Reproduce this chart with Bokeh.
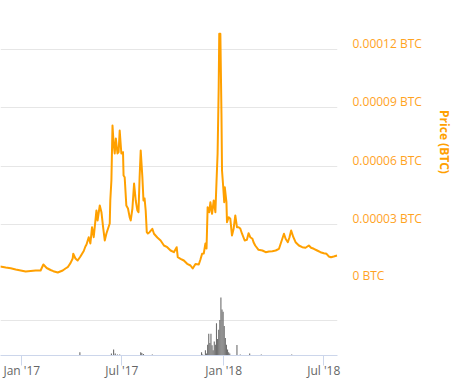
import pandas as pd
from bokeh.plotting import figure
from bokeh.layouts import column
from bokeh.models import Range1d, FixedTicker, CustomJSTickFormatter
from bokeh.embed import file_html
from bokeh.resources import INLINE

# ---- data ----
price_dates = [
    "2016-11-23", "2016-12-03", "2016-12-12", "2016-12-21", "2016-12-30",
    "2017-01-08", "2017-01-17", "2017-01-26", "2017-02-04", "2017-02-09",
    "2017-02-15", "2017-02-22", "2017-02-27", "2017-03-07", "2017-03-16",
    "2017-03-21", "2017-03-25", "2017-03-30", "2017-04-03", "2017-04-04",
    "2017-04-08", "2017-04-12", "2017-04-17", "2017-04-23", "2017-04-26",
    "2017-04-28", "2017-05-02", "2017-05-05", "2017-05-08", "2017-05-11",
    "2017-05-16", "2017-05-18", "2017-05-22", "2017-05-25", "2017-05-28",
    "2017-05-31", "2017-06-03", "2017-06-06", "2017-06-09", "2017-06-10",
    "2017-06-12", "2017-06-14", "2017-06-16", "2017-06-18", "2017-06-20",
    "2017-06-23", "2017-06-25", "2017-06-27", "2017-06-30", "2017-07-03",
    "2017-07-04", "2017-07-06", "2017-07-09", "2017-07-12", "2017-07-15",
    "2017-07-17", "2017-07-20", "2017-07-23", "2017-07-26", "2017-07-29",
    "2017-07-31", "2017-08-02", "2017-08-04", "2017-08-07", "2017-08-09",
    "2017-08-11", "2017-08-13", "2017-08-15", "2017-08-17", "2017-08-20",
    "2017-08-25", "2017-08-28", "2017-09-03", "2017-09-09", "2017-09-15",
    "2017-09-21", "2017-09-27", "2017-10-03", "2017-10-08", "2017-10-10",
    "2017-10-15", "2017-10-21", "2017-10-27", "2017-11-02", "2017-11-06",
    "2017-11-11", "2017-11-17", "2017-11-20", "2017-11-23", "2017-11-26",
    "2017-11-29", "2017-12-01", "2017-12-03", "2017-12-06", "2017-12-08",
    "2017-12-11", "2017-12-14", "2017-12-17", "2017-12-19", "2017-12-21",
    "2017-12-23", "2017-12-24", "2017-12-26", "2017-12-28", "2017-12-29",
    "2017-12-31", "2018-01-02", "2018-01-03", "2018-01-06", "2018-01-07",
    "2018-01-10", "2018-01-13", "2018-01-16", "2018-01-19", "2018-01-22",
    "2018-01-25", "2018-01-28", "2018-01-31", "2018-02-03", "2018-02-08",
    "2018-02-12", "2018-02-15", "2018-02-18", "2018-02-22", "2018-02-24",
    "2018-02-27", "2018-03-05", "2018-03-12", "2018-03-18", "2018-03-24",
    "2018-03-30", "2018-04-05", "2018-04-11", "2018-04-14", "2018-04-17",
    "2018-04-20", "2018-04-23", "2018-04-27", "2018-04-30", "2018-05-03",
    "2018-05-07", "2018-05-11", "2018-05-17", "2018-05-23", "2018-05-29",
    "2018-06-04", "2018-06-08", "2018-06-13", "2018-06-19", "2018-06-25",
    "2018-07-01", "2018-07-06", "2018-07-10", "2018-07-14", "2018-07-19",
    "2018-07-25",
]
# price in units of 0.00001 BTC
price_e5 = [
    0.872, 0.821, 0.785, 0.718, 0.667,
    0.615, 0.641, 0.667, 0.667, 0.974,
    0.795, 0.692, 0.631, 0.564, 0.667,
    0.769, 0.836, 1.046, 1.282, 1.523,
    1.282, 1.179, 1.385, 1.667, 1.897,
    2.000, 2.374, 2.051, 2.887, 2.374,
    3.744, 3.231, 4.000, 3.656, 2.887,
    2.205, 2.564, 2.821, 3.077, 4.256,
    5.282, 8.103, 7.179, 6.667, 7.436,
    6.667, 6.733, 7.846, 6.667, 6.733,
    5.538, 5.451, 4.000, 3.846, 3.400,
    3.231, 3.846, 5.128, 4.256, 3.744,
    3.656, 5.451, 6.821, 5.451, 4.256,
    4.359, 3.744, 2.631, 2.564, 2.631,
    2.805, 2.549, 2.359, 2.205, 1.949,
    1.862, 1.692, 1.605, 1.862, 1.349,
    1.267, 1.179, 1.010, 0.923, 0.769,
    1.000, 0.974, 1.231, 1.523, 1.538,
    2.051, 1.795, 3.913, 3.656, 4.169,
    3.574, 4.256, 3.656, 5.195, 6.651,
    10.067, 12.805, 12.805, 8.703, 5.795,
    5.026, 4.169, 4.938, 4.169, 3.144,
    3.400, 3.318, 2.462, 2.805, 3.487,
    2.887, 2.887, 2.821, 2.564, 2.205,
    2.241, 2.579, 2.374, 2.292, 2.118,
    1.949, 1.728, 1.692, 1.605, 1.641,
    1.656, 1.692, 1.779, 2.036, 2.292,
    2.549, 2.292, 2.118, 2.374, 2.718,
    2.374, 2.118, 1.949, 1.862, 1.831,
    1.949, 1.831, 1.779, 1.692, 1.605,
    1.554, 1.523, 1.385, 1.349, 1.385,
    1.436,
]

vol_dates = [
    "2017-04-16", "2017-06-12", "2017-06-16", "2017-06-19", "2017-06-23",
    "2017-06-27", "2017-08-04", "2017-08-06", "2017-08-09", "2017-08-25",
    "2017-11-22", "2017-11-24", "2017-11-29", "2017-12-01", "2017-12-03",
    "2017-12-05", "2017-12-07", "2017-12-09", "2017-12-11", "2017-12-13",
    "2017-12-15", "2017-12-17", "2017-12-19", "2017-12-21", "2017-12-23",
    "2017-12-25", "2017-12-27", "2017-12-29", "2017-12-31", "2018-01-02",
    "2018-01-04", "2018-01-06", "2018-01-08", "2018-01-10", "2018-01-12",
    "2018-01-25", "2018-01-31", "2018-02-17", "2018-03-10", "2018-05-04",
]
vol_values = [
    4.6, 2.8, 8.4, 2.8, 1.4,
    1.4, 4.6, 3.5, 2.1, 1.4,
    4.6, 1.4, 7.4, 2.8, 15.4,
    30.8, 17.8, 30.8, 14.4, 7.4,
    20.0, 15.4, 45.8, 23.4, 36.4,
    50.4, 82.2, 65.4, 62.0, 42.0,
    24.8, 15.4, 8.4, 4.6, 2.8,
    15.0, 1.4, 2.8, 1.4, 1.4,
]

price_ticks = [0.0, 0.00003, 0.00006, 0.00009, 0.00012]
price_tick_labels = ["0 BTC", "0.00003 BTC", "0.00006 BTC", "0.00009 BTC", "0.00012 BTC"]

x_tick_dates = ["2017-01-01", "2017-07-01", "2018-01-01", "2018-07-01"]
x_tick_labels = ["Jan '17", "Jul '17", "Jan '18", "Jul '18"]

vol_grid = [50, 102.2]

# ---- styles ----
ORANGE = "#FFA000"
LABEL_ORANGE = "#FFA31F"
GRID = "#e6e6e6"
FONT = "Open Sans"

pd_dates = pd.to_datetime(price_dates)
prices = [v * 1e-5 for v in price_e5]
vd = pd.to_datetime(vol_dates)


def ms(d):
    return pd.Timestamp(d).value / 1e6


LOOKUP = """
for (let i = 0; i < tvals.length; i++) {
    if (Math.abs(tick - tvals[i]) < tol) { return labs[i]; }
}
return '';
"""

x_range = Range1d(start=pd.Timestamp("2016-11-23 12:00"), end=pd.Timestamp("2018-07-25 19:00"))

p = figure(width=455, height=283, x_range=x_range, y_range=Range1d(0, 0.0001451),
           x_axis_type="datetime", x_axis_location=None, y_axis_location="right",
           toolbar_location=None, output_backend="svg", title=None,
           min_border_left=0, min_border_right=118, min_border_top=0, min_border_bottom=0)
p.outline_line_color = None
p.xgrid.visible = False
p.ygrid.ticker = FixedTicker(ticks=price_ticks)
p.ygrid.grid_line_color = GRID

off = 3.18e-6
shifted = [t + off for t in price_ticks]
ax = p.yaxis[0]
ax.ticker = FixedTicker(ticks=shifted)
ax.formatter = CustomJSTickFormatter(
    args=dict(tvals=shifted, labs=price_tick_labels, tol=1e-9), code=LOOKUP)
ax.axis_line_color = None
ax.major_tick_line_color = None
ax.minor_tick_line_color = None
ax.major_tick_out = 0
ax.major_tick_in = 0
ax.major_label_standoff = 15
ax.major_label_text_font = FONT
ax.major_label_text_font_size = "12px"
ax.major_label_text_color = LABEL_ORANGE
ax.axis_label = "Price (BTC)"
ax.axis_label_text_font = FONT
ax.axis_label_text_font_size = "12px"
ax.axis_label_text_font_style = "bold"
ax.axis_label_text_color = ORANGE
ax.axis_label_standoff = 11

p.line(x=pd_dates, y=prices, line_width=2, line_color=ORANGE, line_join="round")

v = figure(width=455, height=98, x_range=x_range, y_range=Range1d(0, vol_grid[-1]),
           x_axis_type="datetime", y_axis_location=None,
           toolbar_location=None, output_backend="svg", title=None,
           min_border_left=0, min_border_right=118, min_border_top=0, min_border_bottom=0)
v.outline_line_color = None
v.xgrid.visible = False
v.ygrid.ticker = FixedTicker(ticks=vol_grid)
v.ygrid.grid_line_color = GRID

v.vbar(x=vd, top=vol_values, width=1.728e8, fill_color="#6e6e6e", line_color=None)

xt = [ms(d) for d in x_tick_dates]
xa = v.xaxis[0]
xa.ticker = FixedTicker(ticks=xt)
xa.formatter = CustomJSTickFormatter(
    args=dict(tvals=xt, labs=x_tick_labels, tol=1e6), code=LOOKUP)
xa.axis_line_color = "#ccd6eb"
xa.major_tick_line_color = "#ccd6eb"
xa.minor_tick_line_color = None
xa.major_tick_out = 10
xa.major_tick_in = 0
xa.major_label_standoff = -4
xa.major_label_text_font = FONT
xa.major_label_text_font_size = "12px"
xa.major_label_text_color = "#666666"

layout = column(p, v, spacing=0)
open("out.html", "w").write(file_html(layout, INLINE))
